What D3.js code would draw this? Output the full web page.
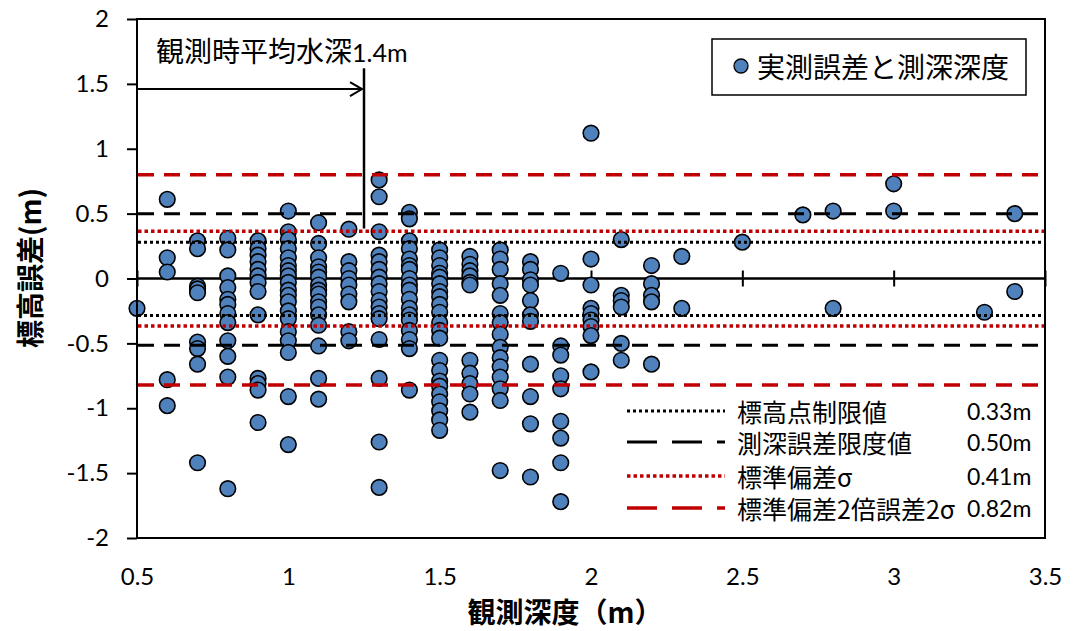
<!DOCTYPE html>
<html>
<head>
<meta charset="utf-8">
<script src="https://cdn.jsdelivr.net/npm/d3@7/dist/d3.min.js"></script>
<style>
  body { margin: 0; background: #fff; }
  svg { display: block; }
</style>
</head>
<body>
<div id="chart"></div>
<script>
// observed depth (m) for each column of points
const depthLevels = [0.5, 0.6, 0.7, 0.8, 0.9, 1.0, 1.1, 1.2, 1.3, 1.4, 1.5, 1.6, 1.7,
  1.8, 1.9, 2.0, 2.1, 2.2, 2.3, 2.5, 2.7, 2.8, 3.0, 3.3, 3.4]

const errorsByDepth = [
  [-0.23],
  [0.61, 0.16, 0.05, -0.78, -0.98],
  [0.29, 0.23, -0.06, -0.08, -0.11, -0.49, -0.54, -0.66, -1.42],
  [0.31, 0.22, 0.02, -0.07, -0.16, -0.2, -0.27, -0.34, -0.48, -0.6, -0.76, -1.62],
  [0.29, 0.23, 0.18, 0.13, 0.07, 0.02, -0.03, -0.1, -0.28, -0.77, -0.81, -0.86, -1.11],
  [0.52, 0.36, 0.3, 0.23, 0.16, 0.1, 0.06, 0.02, -0.03, -0.09, -0.13, -0.18, -0.25, -0.31, -0.41, -0.48, -0.57, -0.91, -1.28],
  [0.43, 0.27, 0.16, 0.09, 0.05, 0.01, -0.05, -0.09, -0.12, -0.18, -0.22, -0.28, -0.36, -0.52, -0.77, -0.93],
  [0.38, 0.13, 0.06, 0.0, -0.05, -0.12, -0.18, -0.41, -0.48],
  [0.76, 0.63, 0.36, 0.18, 0.13, 0.07, 0.01, -0.04, -0.1, -0.17, -0.22, -0.27, -0.31, -0.47, -0.77, -1.26, -1.61],
  [0.51, 0.46, 0.29, 0.23, 0.15, 0.1, 0.07, 0.0, -0.05, -0.09, -0.16, -0.23, -0.28, -0.32, -0.4, -0.47, -0.54, -0.86],
  [0.22, 0.16, 0.1, 0.04, 0.01, -0.04, -0.1, -0.14, -0.2, -0.26, -0.34, -0.4, -0.46, -0.63, -0.71, -0.79, -0.83, -0.89, -0.95, -1.02, -1.09, -1.17],
  [0.17, 0.11, 0.06, 0.02, -0.03, -0.05, -0.63, -0.73, -0.81, -0.89, -1.03],
  [0.22, 0.15, 0.07, -0.04, -0.13, -0.27, -0.34, -0.43, -0.53, -0.61, -0.68, -0.76, -0.85, -0.94, -1.48],
  [0.13, 0.07, -0.01, -0.05, -0.17, -0.28, -0.33, -0.66, -0.91, -1.12, -1.53],
  [0.04, -0.52, -0.59, -0.75, -0.85, -1.1, -1.23, -1.42, -1.72],
  [1.12, 0.15, -0.05, -0.23, -0.27, -0.32, -0.37, -0.44, -0.72],
  [0.3, -0.13, -0.17, -0.22, -0.5, -0.63],
  [0.1, -0.04, -0.13, -0.18, -0.66],
  [0.17, -0.23],
  [0.28],
  [0.49],
  [0.52, -0.23],
  [0.73, 0.52],
  [-0.26],
  [0.5, -0.1]
]

// reference lines: legend name, legend value, drawn upper / lower level
const limitNames = ['標高点制限値', '測深誤差限度値', '標準偏差σ', '標準偏差2倍誤差2σ']
const limitValues = ['0.33m', '0.50m', '0.41m', '0.82m']
const limitUpper = [0.28, 0.5, 0.365, 0.8]
const limitLower = [-0.285, -0.515, -0.367, -0.82]

const xTicks = [0.5, 1, 1.5, 2, 2.5, 3, 3.5]
const yTicks = [-2, -1.5, -1, -0.5, 0, 0.5, 1, 1.5, 2]

// annotation: mean depth marker
const meanDepthText = '観測時平均水深'
const meanDepthValue = '1.4m'
const meanDepthMarkX = 1.25

const seriesName = '実測誤差と測深深度'
const xTitle = '観測深度（m）'
const yTitle = '標高誤差(m)'

const W = 1074
const H = 631
const plot = { left: 137, right: 1045, top: 19, bottom: 538 }
const numFont = "Lato, 'Noto Sans CJK JP', sans-serif"
const jpFont = "'Noto Sans CJK JP', sans-serif"
const blue = '#4F81BD'
const red = '#C00000'

const lineStyles = [
  { color: '#000', width: 3, dash: '3,3', legendDash: '3,3' },
  { color: '#000', width: 3, dash: '16,10', legendDash: '30,15' },
  { color: red, width: 3.5, dash: '3.5,3', legendDash: '3.5,3' },
  { color: red, width: 3.5, dash: '16,10', legendDash: '30,15' }
]

const svg = d3
  .select('#chart')
  .append('svg')
  .attr('width', W)
  .attr('height', H)

const x = d3.scaleLinear().domain([0.5, 3.5]).range([plot.left, plot.right])
const y = d3.scaleLinear().domain([-2, 2]).range([plot.bottom, plot.top])

// y axis with outside ticks
const yAxis = svg
  .append('g')
  .attr('transform', 'translate(' + plot.left + ',0)')
  .call(d3.axisLeft(y).tickValues(yTicks).tickSize(10).tickPadding(18).tickFormat(d => String(d)))
yAxis.select('.domain').remove()
yAxis.selectAll('line').attr('stroke', '#000').attr('stroke-width', 2)
yAxis
  .selectAll('text')
  .attr('font-family', numFont)
  .attr('font-size', 24)
  .attr('fill', '#000')

// x axis: cross ticks on zero line, labels at bottom
const xCross = svg
  .append('g')
  .attr('transform', 'translate(0,' + (y(0) - 8) + ')')
  .call(d3.axisBottom(x).tickValues(xTicks).tickSize(16).tickFormat(''))
xCross.select('.domain').remove()
xCross.selectAll('line').attr('stroke', '#000').attr('stroke-width', 2)

const xLabels = svg
  .append('g')
  .attr('transform', 'translate(0,' + plot.bottom + ')')
  .call(d3.axisBottom(x).tickValues(xTicks).tickSize(0).tickPadding(30).tickFormat(d => String(d)))
xLabels.select('.domain').remove()
xLabels
  .selectAll('text')
  .attr('font-family', numFont)
  .attr('font-size', 24)
  .attr('fill', '#000')

// zero line
svg
  .append('line')
  .attr('x1', plot.left)
  .attr('x2', plot.right)
  .attr('y1', y(0))
  .attr('y2', y(0))
  .attr('stroke', '#000')
  .attr('stroke-width', 2.5)

// points
const points = []
depthLevels.forEach((d, i) => {
  errorsByDepth[i].forEach(e => points.push({ depth: d, error: e }))
})

svg
  .append('g')
  .selectAll('circle')
  .data(points)
  .enter()
  .append('circle')
  .attr('cx', d => x(d.depth))
  .attr('cy', d => y(d.error))
  .attr('r', 7.8)
  .attr('fill', blue)
  .attr('stroke', '#000')
  .attr('stroke-width', 1.6)

// limit lines (drawn above points)
const limits = svg.append('g')
limitNames.forEach((name, i) => {
  const s = lineStyles[i]
  ;[limitUpper[i], limitLower[i]].forEach(v => {
    limits
      .append('line')
      .attr('x1', plot.left + 1)
      .attr('x2', plot.right)
      .attr('y1', y(v))
      .attr('y2', y(v))
      .attr('stroke', s.color)
      .attr('stroke-width', s.width)
      .attr('stroke-dasharray', s.dash)
  })
})

// plot frame
svg
  .append('rect')
  .attr('x', plot.left)
  .attr('y', plot.top)
  .attr('width', plot.right - plot.left)
  .attr('height', plot.bottom - plot.top)
  .attr('fill', 'none')
  .attr('stroke', '#000')
  .attr('stroke-width', 2)

// mean depth annotation
const ann = svg.append('g')
ann
  .append('line')
  .attr('x1', plot.left)
  .attr('x2', x(meanDepthMarkX) - 2)
  .attr('y1', y(1.46))
  .attr('y2', y(1.46))
  .attr('stroke', '#000')
  .attr('stroke-width', 2)
ann
  .append('path')
  .attr('d', 'M' + (x(meanDepthMarkX) - 14) + ',' + (y(1.46) - 7) + ' L' + (x(meanDepthMarkX) - 2) + ',' + y(1.46) + ' L' + (x(meanDepthMarkX) - 14) + ',' + (y(1.46) + 7))
  .attr('fill', 'none')
  .attr('stroke', '#000')
  .attr('stroke-width', 2)
ann
  .append('line')
  .attr('x1', x(meanDepthMarkX))
  .attr('x2', x(meanDepthMarkX))
  .attr('y1', y(1.62))
  .attr('y2', y(0.385))
  .attr('stroke', '#000')
  .attr('stroke-width', 2.5)
const annText = ann
  .append('text')
  .attr('x', 156)
  .attr('y', 62)
  .attr('font-family', jpFont)
  .attr('font-size', 28)
  .attr('fill', '#000')
annText.append('tspan').text(meanDepthText)
annText.append('tspan').attr('font-family', numFont).attr('font-size', 25).text(meanDepthValue)

// series legend (boxed)
const leg = svg.append('g')
leg
  .append('rect')
  .attr('x', 712)
  .attr('y', 39)
  .attr('width', 314)
  .attr('height', 56)
  .attr('fill', '#fff')
  .attr('stroke', '#000')
  .attr('stroke-width', 1.5)
leg
  .append('circle')
  .attr('cx', 741)
  .attr('cy', 66)
  .attr('r', 7)
  .attr('fill', blue)
  .attr('stroke', '#000')
  .attr('stroke-width', 1.3)
leg
  .append('text')
  .attr('x', 757)
  .attr('y', 66)
  .attr('dominant-baseline', 'central')
  .attr('font-family', jpFont)
  .attr('font-size', 28)
  .attr('fill', '#000')
  .text(seriesName)

// line legend
const legendRowY = [411, 442, 476, 508]
limitNames.forEach((name, i) => {
  const s = lineStyles[i]
  const g = svg.append('g')
  g.append('line')
    .attr('x1', 627)
    .attr('x2', 725)
    .attr('y1', legendRowY[i])
    .attr('y2', legendRowY[i])
    .attr('stroke', s.color)
    .attr('stroke-width', s.width)
    .attr('stroke-dasharray', s.legendDash)
  g.append('text')
    .attr('x', 737)
    .attr('y', legendRowY[i])
    .attr('dominant-baseline', 'central')
    .attr('font-family', jpFont)
    .attr('font-size', 25)
    .attr('fill', '#000')
    .text(name)
  g.append('text')
    .attr('x', 967)
    .attr('y', legendRowY[i])
    .attr('dominant-baseline', 'central')
    .attr('font-family', numFont)
    .attr('font-size', 23)
    .attr('fill', '#000')
    .text(limitValues[i])
})

// axis titles
svg
  .append('text')
  .attr('x', 565)
  .attr('y', 611)
  .attr('text-anchor', 'middle')
  .attr('dominant-baseline', 'central')
  .attr('font-family', jpFont)
  .attr('font-weight', 'bold')
  .attr('font-size', 28)
  .attr('fill', '#000')
  .text(xTitle)

svg
  .append('text')
  .attr('transform', 'translate(29,268) rotate(-90)')
  .attr('text-anchor', 'middle')
  .attr('dominant-baseline', 'central')
  .attr('font-family', jpFont)
  .attr('font-weight', 'bold')
  .attr('font-size', 28)
  .attr('fill', '#000')
  .text(yTitle)
</script>
</body>
</html>
